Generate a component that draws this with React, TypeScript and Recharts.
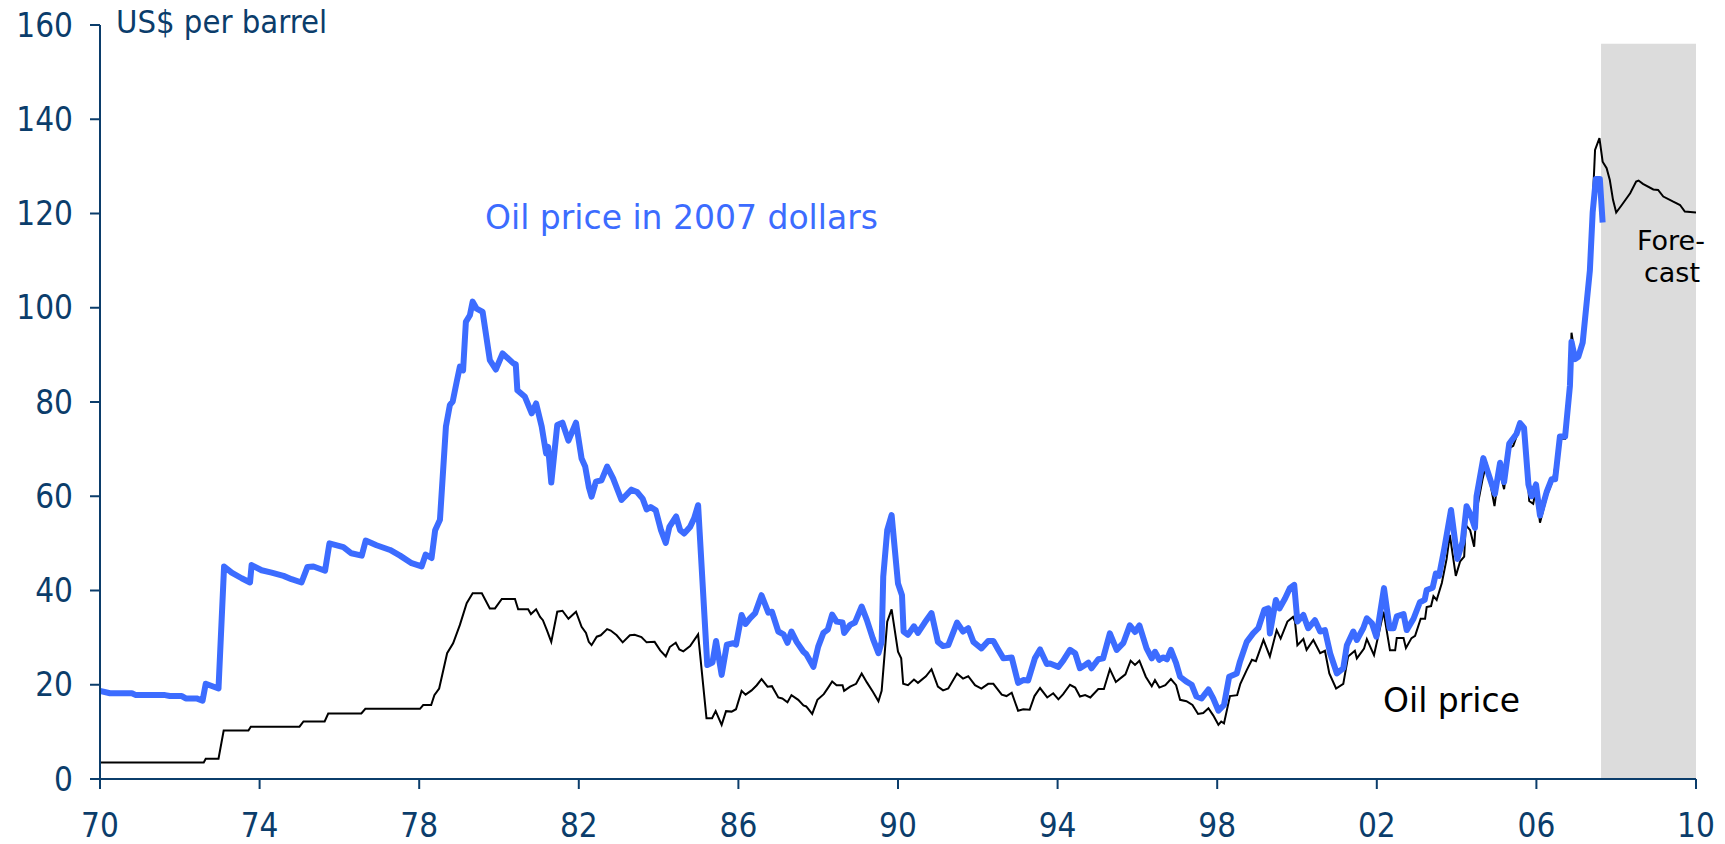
import React from "react";
import { LineChart, Line, XAxis, YAxis, ReferenceArea } from "recharts";

const NAVY = "#0b3d6b";
const BLUE = "#3c6cff";
const COND = "'DejaVu Sans Condensed', 'DejaVu Sans', sans-serif";
const SANS = "'DejaVu Sans', Verdana, sans-serif";

const xTicks = [1970, 1974, 1978, 1982, 1986, 1990, 1994, 1998, 2002, 2006, 2010];
const yTicks = [0, 20, 40, 60, 80, 100, 120, 140, 160];
const forecastStart = 2007.62;
const forecastEnd = 2010;
const forecastTop = 156;

// [year, US$ per barrel] nominal oil price
const nominalPrice: [number, number][] = [
  [1970.0,3.5],[1972.6,3.5],[1972.65,4.3],[1972.97,4.3],[1973.1,10.3],[1973.72,10.3],[1973.78,11.1],[1975.0,11.1],[1975.1,12.2],[1975.63,12.2],[1975.72,13.9],[1976.55,13.9],[1976.65,14.9],[1978.02,14.9],[1978.1,15.7],[1978.3,15.7],[1978.38,17.8],[1978.5,19.2],[1978.7,26.7],[1978.85,28.8],[1979.02,32.7],[1979.19,37.3],[1979.34,39.4],[1979.57,39.4],[1979.77,36.2],[1979.9,36.2],[1980.07,38.2],[1980.4,38.2],[1980.48,36.0],[1980.73,36.0],[1980.8,35.0],[1980.93,36.0],[1981.03,34.4],[1981.1,33.7],[1981.2,31.6],[1981.31,29.1],[1981.46,35.5],[1981.59,35.7],[1981.74,34.0],[1981.93,35.5],[1982.07,32.3],[1982.18,31.0],[1982.25,29.1],[1982.32,28.4],[1982.45,30.2],[1982.55,30.5],[1982.71,31.8],[1982.8,31.5],[1982.95,30.5],[1983.1,29.0],[1983.28,30.5],[1983.4,30.6],[1983.57,30.1],[1983.7,29.0],[1983.9,29.1],[1984.04,27.3],[1984.18,26.0],[1984.28,28.0],[1984.43,28.9],[1984.52,27.5],[1984.62,27.1],[1984.79,28.2],[1984.99,30.7],[1985.2,12.9],[1985.34,12.9],[1985.43,14.4],[1985.58,11.5],[1985.69,14.4],[1985.83,14.3],[1985.94,14.8],[1986.08,18.7],[1986.18,17.9],[1986.33,18.8],[1986.46,19.9],[1986.58,21.2],[1986.73,19.6],[1986.84,19.7],[1987.0,17.3],[1987.1,17.1],[1987.23,16.3],[1987.33,17.8],[1987.5,16.8],[1987.63,15.6],[1987.7,15.4],[1987.85,13.8],[1987.98,16.8],[1988.14,18.0],[1988.25,19.4],[1988.35,20.7],[1988.46,19.9],[1988.61,19.9],[1988.65,18.7],[1988.8,19.6],[1988.95,20.2],[1989.09,22.4],[1989.22,20.5],[1989.37,18.5],[1989.51,16.5],[1989.59,18.7],[1989.73,33.4],[1989.84,36.0],[1990.0,27.0],[1990.08,25.6],[1990.13,20.2],[1990.25,19.9],[1990.4,21.1],[1990.5,20.4],[1990.7,21.8],[1990.84,23.3],[1991.0,19.6],[1991.13,18.8],[1991.26,19.2],[1991.48,22.4],[1991.63,21.3],[1991.76,21.8],[1991.93,19.9],[1992.09,19.2],[1992.26,20.2],[1992.39,20.2],[1992.6,17.9],[1992.72,17.6],[1992.85,18.3],[1993.01,14.5],[1993.14,14.8],[1993.3,14.7],[1993.42,17.6],[1993.56,19.3],[1993.74,17.3],[1993.89,18.2],[1994.02,16.9],[1994.14,18.0],[1994.31,20.0],[1994.44,19.4],[1994.56,17.5],[1994.69,17.8],[1994.82,17.3],[1995.02,19.1],[1995.16,19.1],[1995.31,23.3],[1995.46,20.6],[1995.58,21.4],[1995.7,22.2],[1995.83,25.1],[1995.94,24.2],[1996.05,25.1],[1996.21,21.7],[1996.36,19.7],[1996.44,21.0],[1996.55,19.4],[1996.7,19.9],[1996.84,21.2],[1996.97,19.9],[1997.07,16.8],[1997.23,16.5],[1997.38,15.7],[1997.52,13.8],[1997.65,14.0],[1997.78,15.0],[1997.9,13.5],[1998.03,11.5],[1998.1,12.2],[1998.17,11.8],[1998.32,17.6],[1998.5,17.8],[1998.58,20.2],[1998.74,23.1],[1998.87,25.3],[1998.97,25.0],[1999.16,29.5],[1999.32,26.0],[1999.49,31.6],[1999.59,29.8],[1999.76,33.4],[1999.9,34.4],[1999.95,33.4],[2000.01,28.4],[2000.16,29.7],[2000.24,27.4],[2000.41,29.5],[2000.58,26.7],[2000.7,27.2],[2000.81,22.4],[2000.98,19.2],[2001.16,20.2],[2001.28,26.0],[2001.45,27.2],[2001.5,25.6],[2001.68,27.7],[2001.75,29.7],[2001.93,26.3],[2002.17,35.5],[2002.33,27.3],[2002.46,27.3],[2002.5,29.9],[2002.67,29.9],[2002.73,27.8],[2002.87,29.9],[2002.96,30.4],[2003.1,34.0],[2003.21,34.0],[2003.25,36.5],[2003.36,36.7],[2003.42,38.8],[2003.5,38.0],[2003.63,41.6],[2003.75,46.7],[2003.83,51.8],[2003.98,43.1],[2004.09,46.2],[2004.19,47.2],[2004.23,53.9],[2004.34,52.8],[2004.44,49.3],[2004.5,56.9],[2004.65,63.6],[2004.75,67.1],[2004.95,57.9],[2005.07,65.6],[2005.19,61.5],[2005.32,70.2],[2005.42,70.7],[2005.55,73.8],[2005.63,75.3],[2005.71,73.2],[2005.82,59.0],[2005.92,58.4],[2005.99,61.5],[2006.09,54.4],[2006.26,60.0],[2006.42,63.6],[2006.59,72.2],[2006.72,72.2],[2006.84,83.4],[2006.88,94.7],[2006.97,89.6],[2007.09,90.6],[2007.18,93.6],[2007.34,107.9],[2007.41,122.0],[2007.47,133.5],[2007.58,136.0],
];

// [year, US$ per barrel] forecast part of the nominal price
const nominalForecast: [number, number][] = [
  [2007.66,131.0],[2007.76,129.6],[2007.84,127.1],[2007.92,122.9],[2008.0,120.2],[2008.14,121.8],[2008.35,124.3],[2008.5,126.8],[2008.56,127.0],[2008.67,126.3],[2008.93,125.1],[2009.05,125.0],[2009.18,123.6],[2009.43,122.5],[2009.6,121.8],[2009.72,120.4],[2010.0,120.2],
];

// [year, US$ per barrel] price in 2007 dollars
const realPrice: [number, number][] = [
  [1970.0,18.7],[1970.25,18.2],[1970.8,18.2],[1970.9,17.8],[1971.63,17.8],[1971.75,17.6],[1972.05,17.6],[1972.15,17.1],[1972.42,17.1],[1972.57,16.6],[1972.65,20.2],[1972.97,19.2],[1973.11,45.1],[1973.3,43.8],[1973.55,42.6],[1973.76,41.7],[1973.8,45.4],[1974.05,44.3],[1974.3,43.8],[1974.6,43.1],[1974.8,42.4],[1975.05,41.7],[1975.2,45.0],[1975.35,45.1],[1975.64,44.2],[1975.75,50.0],[1976.1,49.2],[1976.3,47.9],[1976.56,47.4],[1976.66,50.6],[1976.93,49.6],[1977.27,48.6],[1977.52,47.4],[1977.81,45.8],[1978.06,45.1],[1978.16,47.6],[1978.31,46.9],[1978.4,52.8],[1978.52,55.0],[1978.67,74.8],[1978.77,79.4],[1978.84,80.1],[1978.94,84.3],[1979.02,87.5],[1979.1,86.7],[1979.17,97.0],[1979.27,98.4],[1979.34,101.3],[1979.44,99.8],[1979.59,99.1],[1979.77,88.9],[1979.92,86.9],[1980.09,90.3],[1980.36,88.2],[1980.42,88.0],[1980.46,82.5],[1980.65,81.1],[1980.82,77.6],[1980.93,79.7],[1981.07,74.8],[1981.18,69.1],[1981.23,70.5],[1981.31,62.9],[1981.46,75.1],[1981.59,75.6],[1981.74,71.8],[1981.93,75.6],[1982.07,68.0],[1982.16,66.3],[1982.25,62.0],[1982.32,59.9],[1982.43,63.1],[1982.57,63.4],[1982.71,66.3],[1982.86,63.8],[1983.07,59.2],[1983.32,61.4],[1983.46,60.9],[1983.6,59.5],[1983.7,57.2],[1983.8,57.7],[1983.93,57.0],[1984.06,52.8],[1984.18,50.1],[1984.27,53.5],[1984.44,55.7],[1984.54,52.8],[1984.64,52.1],[1984.79,53.5],[1984.89,55.3],[1984.99,58.1],[1985.22,24.2],[1985.35,24.7],[1985.44,29.3],[1985.58,22.1],[1985.71,28.5],[1985.87,28.8],[1985.94,28.5],[1986.08,34.8],[1986.18,32.9],[1986.29,34.1],[1986.42,35.2],[1986.58,39.0],[1986.75,35.3],[1986.84,35.5],[1987.0,31.3],[1987.13,30.7],[1987.23,28.9],[1987.33,31.3],[1987.46,29.1],[1987.63,27.0],[1987.7,26.5],[1987.88,23.8],[1988.0,28.1],[1988.13,31.0],[1988.24,31.7],[1988.35,34.9],[1988.46,33.4],[1988.61,33.2],[1988.65,31.0],[1988.8,32.7],[1988.92,33.2],[1989.09,36.6],[1989.22,33.7],[1989.37,29.8],[1989.51,26.7],[1989.59,29.1],[1989.63,42.9],[1989.73,52.8],[1989.84,56.0],[1990.0,41.5],[1990.1,39.0],[1990.14,31.3],[1990.25,30.6],[1990.4,32.4],[1990.5,31.0],[1990.67,33.2],[1990.84,35.2],[1991.0,29.1],[1991.13,28.2],[1991.26,28.4],[1991.48,33.2],[1991.63,31.3],[1991.76,32.0],[1991.89,29.1],[1992.09,27.7],[1992.26,29.3],[1992.39,29.3],[1992.51,27.5],[1992.64,25.6],[1992.85,25.8],[1993.01,20.4],[1993.14,21.0],[1993.26,20.9],[1993.43,25.6],[1993.56,27.5],[1993.73,24.4],[1993.81,24.5],[1994.02,23.8],[1994.14,25.1],[1994.31,27.4],[1994.44,26.7],[1994.56,23.5],[1994.69,24.2],[1994.77,24.7],[1994.85,23.5],[1995.02,25.4],[1995.14,25.6],[1995.31,30.9],[1995.48,27.4],[1995.65,28.9],[1995.81,32.6],[1995.94,31.2],[1996.05,32.6],[1996.23,27.7],[1996.36,25.6],[1996.44,27.0],[1996.55,25.3],[1996.65,25.8],[1996.74,25.4],[1996.84,27.4],[1996.97,24.6],[1997.07,21.7],[1997.22,20.7],[1997.36,20.0],[1997.48,17.5],[1997.61,17.1],[1997.78,19.0],[1997.9,17.1],[1998.03,14.5],[1998.17,15.7],[1998.3,21.7],[1998.49,22.4],[1998.57,24.9],[1998.74,29.1],[1998.9,30.9],[1999.03,32.0],[1999.18,35.9],[1999.28,36.2],[1999.32,30.9],[1999.47,38.0],[1999.56,36.2],[1999.7,38.3],[1999.82,40.5],[1999.93,41.2],[2000.01,33.4],[2000.16,34.8],[2000.28,32.0],[2000.45,33.7],[2000.58,31.3],[2000.7,31.6],[2000.83,26.7],[2001.0,22.4],[2001.16,23.5],[2001.25,28.4],[2001.41,31.3],[2001.5,29.5],[2001.66,32.0],[2001.75,34.1],[2001.88,33.0],[2001.99,30.2],[2002.18,40.5],[2002.32,32.0],[2002.42,32.0],[2002.5,34.5],[2002.67,35.0],[2002.75,31.6],[2002.92,34.0],[2003.08,37.5],[2003.2,38.0],[2003.25,40.1],[2003.4,40.6],[2003.48,43.6],[2003.56,43.1],[2003.69,48.8],[2003.86,57.1],[2004.02,46.7],[2004.15,50.3],[2004.25,57.9],[2004.36,55.9],[2004.46,53.3],[2004.5,60.0],[2004.67,68.1],[2004.96,60.5],[2005.09,67.1],[2005.19,63.0],[2005.32,71.2],[2005.5,73.2],[2005.59,75.5],[2005.69,74.5],[2005.8,62.5],[2005.88,60.0],[2005.99,62.5],[2006.09,55.9],[2006.26,61.0],[2006.38,63.6],[2006.47,63.6],[2006.59,72.7],[2006.72,72.7],[2006.84,83.4],[2006.88,92.8],[2006.97,89.1],[2007.05,89.6],[2007.16,92.6],[2007.34,107.9],[2007.41,120.2],[2007.49,127.3],[2007.59,127.3],[2007.66,118.1],
];

const nominalData = [...nominalPrice, ...nominalForecast].map(([x, v]) => ({ x, v }));
const realData = realPrice.map(([x, v]) => ({ x, v }));

const fmtYear = (y: number) => String(Math.round(y) % 100).padStart(2, "0");

export default function App() {
  const W = 1720;
  const H = 844;
  return (
    <div style={{ position: "relative", width: W, height: H, marginTop: -8, marginLeft: -8 }}>
      <LineChart width={W} height={H} margin={{ top: 25, right: 24, bottom: 0, left: 0 }}>
        <XAxis
          type="number"
          dataKey="x"
          domain={[1970, 2010]}
          ticks={xTicks}
          tickFormatter={fmtYear}
          allowDataOverflow
          height={65}
          tickSize={10}
          tickMargin={25}
          axisLine={{ stroke: NAVY, strokeWidth: 2 }}
          tickLine={{ stroke: NAVY, strokeWidth: 2 }}
          tick={{ fill: NAVY, fontSize: 33, fontFamily: COND }}
          interval={0}
        />
        <YAxis
          type="number"
          domain={[0, 160]}
          ticks={yTicks}
          width={100}
          tickSize={10}
          tickMargin={17}
          axisLine={{ stroke: NAVY, strokeWidth: 2 }}
          tickLine={{ stroke: NAVY, strokeWidth: 2 }}
          tick={{ fill: NAVY, fontSize: 33, fontFamily: COND }}
          interval={0}
        />
        <ReferenceArea
          x1={forecastStart}
          x2={forecastEnd}
          y1={0}
          y2={forecastTop}
          fill="#dcdcdc"
          fillOpacity={1}
          stroke="none"
          ifOverflow="visible"
        />
        <Line
          data={nominalData}
          dataKey="v"
          type="linear"
          stroke="#000000"
          strokeWidth={2}
          dot={false}
          isAnimationActive={false}
        />
        <Line
          data={realData}
          dataKey="v"
          type="linear"
          stroke={BLUE}
          strokeWidth={6}
          strokeLinejoin="round"
          dot={false}
          isAnimationActive={false}
        />
      </LineChart>
      <svg
        width={W}
        height={H}
        style={{ position: "absolute", left: 0, top: 0, pointerEvents: "none" }}
      >
        <text x={116} y={33} fill={NAVY} fontSize={32.5} fontFamily={COND}>US$ per barrel</text>
        <text x={485} y={229} fill={BLUE} fontSize={33} fontFamily={SANS}>Oil price in 2007 dollars</text>
        <text x={1383} y={712} fill="#000" fontSize={33} fontFamily={SANS}>Oil price</text>
        <text x={1671} y={250} fill="#000" fontSize={27} fontFamily={SANS} textAnchor="middle">Fore-</text>
        <text x={1672} y={282} fill="#000" fontSize={27} fontFamily={SANS} textAnchor="middle">cast</text>
      </svg>
    </div>
  );
}
